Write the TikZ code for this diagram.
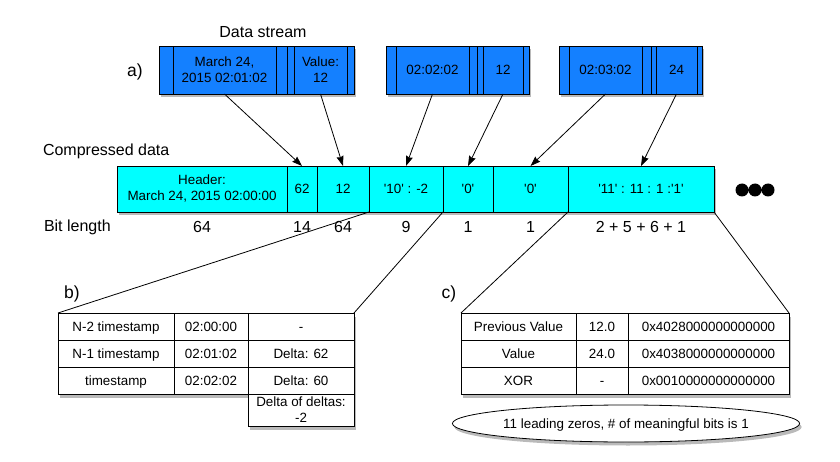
\documentclass[tikz,border=0pt]{standalone}
\usepackage{fontspec}
\setmainfont{Liberation Sans}
\usetikzlibrary{positioning,shadows,shapes.geometric,arrows.meta}
\definecolor{streamblue}{RGB}{20,128,255}
\definecolor{cdcyan}{RGB}{0,255,255}
\newcommand{\txt}{\fontsize{13.4}{16}\selectfont}
\newcommand{\ttl}{\fontsize{16}{19}\selectfont}
\newcommand{\lbl}{\fontsize{17.5}{20}\selectfont}
\newcommand{\qs}{\textquotesingle}

\begin{document}
\begin{tikzpicture}[x=1pt,y=1pt]
			\tikzstyle{every node}+=[inner sep=0pt, outer sep=0pt, font=\txt]
			\tikzstyle{dropsh}=[drop shadow={shadow xshift=2pt, shadow yshift=-3.5pt, opacity=0.45, fill=black!60}]
			\tikzstyle{sbox}=[draw, line width=0.8pt, fill=streamblue, minimum height=48pt, align=center, dropsh]
			\tikzstyle{cbox}=[draw, line width=0.8pt, fill=cdcyan, minimum height=46pt, align=center, dropsh]
			\tikzstyle{tbase}=[draw, line width=0.8pt, fill=white, minimum height=27pt, align=center, dropsh]
			\tikzstyle{tcell}=[tbase, text height=9.6pt, text depth=0pt]
			\tikzstyle{bitnum}=[font=\ttl]
			\tikzstyle{arr}=[line width=0.8pt, -{Stealth[length=10pt, width=7pt, inset=1pt]}]
			\useasboundingbox (0,0) rectangle (840,-462);
			% a) data stream
			\node [font=\ttl] (dstream) at (263,-32) {Data stream};
			\node [font=\lbl] (la) at (135,-72) {a)};
			\node [sbox, minimum width=14pt, anchor=west] (s1a) at (159,-70) {};
			\node [sbox, minimum width=103pt, right=0pt of s1a] (ts1) {March 24,\\2015 02:01:02};
			\node [sbox, minimum width=11pt, right=0pt of ts1] (s1b) {};
			\node [sbox, minimum width=7pt, right=0pt of s1b] (s1c) {};
			\node [sbox, minimum width=53pt, right=0pt of s1c] (v1) {Value:\\12};
			\node [sbox, minimum width=7pt, right=0pt of v1] (s1d) {};
			\node [sbox, minimum width=10pt, anchor=west] (s2a) at (386,-70) {};
			\node [sbox, minimum width=73pt, right=0pt of s2a] (ts2) {02:02:02};
			\node [sbox, minimum width=8pt, right=0pt of ts2] (s2b) {};
			\node [sbox, minimum width=6pt, right=0pt of s2b] (s2c) {};
			\node [sbox, minimum width=40pt, right=0pt of s2c] (v2) {12};
			\node [sbox, minimum width=6pt, right=0pt of v2] (s2d) {};
			\node [sbox, minimum width=10pt, anchor=west] (s3a) at (559,-70) {};
			\node [sbox, minimum width=73pt, right=0pt of s3a] (ts3) {02:03:02};
			\node [sbox, minimum width=9pt, right=0pt of ts3] (s3b) {};
			\node [sbox, minimum width=5pt, right=0pt of s3b] (s3c) {};
			\node [sbox, minimum width=41pt, right=0pt of s3c] (v3) {24};
			\node [sbox, minimum width=5pt, right=0pt of v3] (s3d) {};
			% compressed row
			\node [font=\ttl, anchor=west] (cdata) at (43,-151) {Compressed data};
			\node [cbox, minimum width=170pt, anchor=west] (hdr) at (117,-189) {Header:\\March 24, 2015 02:00:00};
			\node [cbox, minimum width=30pt, right=0pt of hdr] (d62) {62};
			\node [cbox, minimum width=52pt, right=0pt of d62] (d12) {12};
			\node [cbox, minimum width=74pt, right=0pt of d12] (d10) {\qs10\qs\ : -2};
			\node [cbox, minimum width=50pt, right=0pt of d10] (d0a) {\qs0\qs};
			\node [cbox, minimum width=75pt, right=0pt of d0a] (d0b) {\qs0\qs};
			\node [cbox, minimum width=146pt, right=0pt of d0b] (d11) {\qs11\qs\ : 11 : 1 :\qs1\qs};
			\fill (742,-190) circle (6.5) (755,-190) circle (6.5) (768,-190) circle (6.5);
			% bit lengths
			\node [font=\ttl, anchor=west] (bitlen) at (44,-227) {Bit length};
			\node [bitnum] (bhdr) at (hdr |- bitlen) {64};
			\node [bitnum] (b62) at (d62 |- bitlen) {14};
			\node [bitnum] (b12) at (d12 |- bitlen) {64};
			\node [bitnum] (b10) at (d10 |- bitlen) {9};
			\node [bitnum] (b0a) at (d0a |- bitlen) {1};
			\node [bitnum] (b0b) at (d0b |- bitlen) {1};
			\node [bitnum] (b11) at (d11 |- bitlen) {2 + 5 + 6 + 1};
			% arrows
			\draw [arr] (ts1.south) -- (d62.north);
			\draw [arr] (v1.south) -- (d12.north);
			\draw [arr] (ts2.south) -- (d10.north);
			\draw [arr] (v2.south) -- (d0a.north);
			\draw [arr] (ts3.south) -- (d0b.north);
			\draw [arr] (v3.south) -- (d11.north);
			% b) timestamps
			\node [font=\lbl] (lb) at (72,-294) {b)};
			\node [tcell, minimum width=116pt, anchor=north west] (bn2) at (58,-313) {N-2 timestamp};
			\node [tcell, minimum width=74pt, right=0pt of bn2] (bt2) {02:00:00};
			\node [tcell, minimum width=106pt, right=0pt of bt2] (bd2) {-};
			\node [tcell, minimum width=116pt, below=0pt of bn2] (bn1) {N-1 timestamp};
			\node [tcell, minimum width=74pt, right=0pt of bn1] (bt1) {02:01:02};
			\node [tcell, minimum width=106pt, right=0pt of bt1] (bd1) {Delta: 62};
			\node [tcell, minimum width=116pt, below=0pt of bn1] (bn0) {timestamp};
			\node [tcell, minimum width=74pt, right=0pt of bn0] (bt0) {02:02:02};
			\node [tcell, minimum width=106pt, right=0pt of bt0] (bd0) {Delta: 60};
			\node [tbase, minimum width=106pt, minimum height=32pt, below=0pt of bd0] (bdd) {Delta of deltas:\\-2};
			\draw [line width=0.8pt] (d10.south west) -- (bn2.north west);
			\draw [line width=0.8pt] (d10.south east) -- (bd2.north east);
			% c) values
			\node [font=\lbl] (lc) at (449,-294) {c)};
			\node [tcell, minimum width=115pt, anchor=north west] (cpv) at (461,-313) {Previous Value};
			\node [tcell, minimum width=52pt, right=0pt of cpv] (cpn) {12.0};
			\node [tcell, minimum width=161pt, right=0pt of cpn] (cph) {0x4028000000000000};
			\node [tcell, minimum width=115pt, below=0pt of cpv] (cv) {Value};
			\node [tcell, minimum width=52pt, right=0pt of cv] (cvn) {24.0};
			\node [tcell, minimum width=161pt, right=0pt of cvn] (cvh) {0x4038000000000000};
			\node [tcell, minimum width=115pt, below=0pt of cv] (cx) {XOR};
			\node [tcell, minimum width=52pt, right=0pt of cx] (cxn) {-};
			\node [tcell, minimum width=161pt, right=0pt of cxn] (cxh) {0x0010000000000000};
			\node [ellipse, draw, line width=0.8pt, fill=white, minimum width=332pt, minimum height=37pt, text height=9.6pt, text depth=0pt, dropsh] (note) at (626,-423.5) {11 leading zeros, \# of meaningful bits is 1};
			\draw [line width=0.8pt] (d11.south west) -- (cpv.north west);
			\draw [line width=0.8pt] (d11.south east) -- (cph.north east);
\end{tikzpicture}
\end{document}
